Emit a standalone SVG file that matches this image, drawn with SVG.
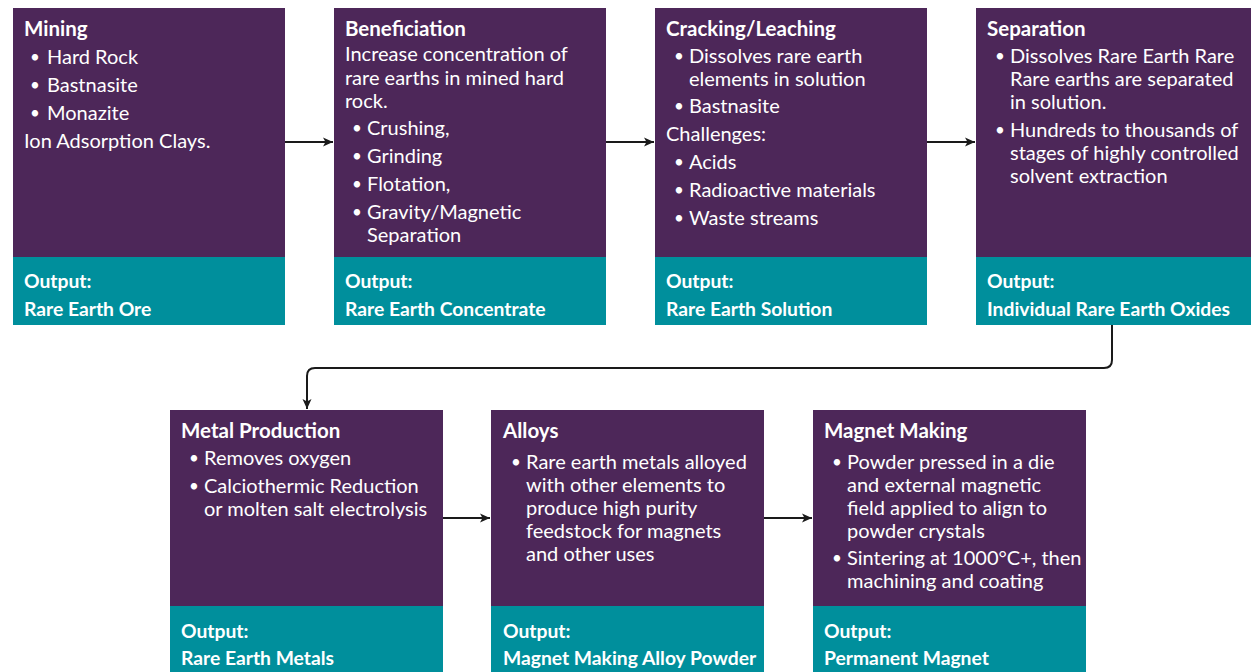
<svg xmlns="http://www.w3.org/2000/svg" width="1253" height="672" viewBox="0 0 1253 672">
<defs>
<style>
.top{fill:#4d2759}
.out{fill:#008f9c}
text{font-family:Lato,"Noto Sans",sans-serif;font-size:20px;fill:#ffffff}
.t{font-weight:bold;font-size:20.5px}
.o{font-weight:bold;font-size:19.3px}
.b{font-size:17px}
.c{fill:none;stroke:#1a1a1a;stroke-width:2}
</style>
<marker id="ah" viewBox="0 0 10 10" refX="10" refY="5" markerWidth="10" markerHeight="10" markerUnits="userSpaceOnUse" orient="auto">
<path d="M0,0.5 L10,5 L0,9.5 L2.5,5 Z" fill="#1a1a1a"/>
</marker>
</defs>
<rect width="1253" height="672" fill="#ffffff"/>

<g id="connectors">
<path class="c" d="M285,142 H333" marker-end="url(#ah)"/>
<path class="c" d="M606,142 H654" marker-end="url(#ah)"/>
<path class="c" d="M927,142 H975" marker-end="url(#ah)"/>
<path class="c" d="M1112,325 V360 Q1112,368 1104,368 H315 Q307,368 307,376 V409" marker-end="url(#ah)"/>
<path class="c" d="M443,518 H490" marker-end="url(#ah)"/>
<path class="c" d="M764,518 H812" marker-end="url(#ah)"/>
</g>

<g id="mining">
<rect class="top" x="13" y="8" width="272" height="249"/>
<rect class="out" x="13" y="257" width="272" height="68"/>
<text class="t" x="24" y="36">Mining</text>
<text class="b" x="30" y="63">•</text><text x="47" y="64">Hard Rock</text>
<text class="b" x="30" y="91">•</text><text x="47" y="92">Bastnasite</text>
<text class="b" x="30" y="119">•</text><text x="47" y="120">Monazite</text>
<text x="24" y="148">Ion Adsorption Clays.</text>
<text class="o" x="24" y="288">Output:</text>
<text class="o" x="24" y="316">Rare Earth Ore</text>
</g>

<g id="beneficiation">
<rect class="top" x="334" y="8" width="272" height="249"/>
<rect class="out" x="334" y="257" width="272" height="68"/>
<text class="t" x="345" y="36">Beneficiation</text>
<text x="345" y="61">Increase concentration of</text>
<text x="345" y="85">rare earths in mined hard</text>
<text x="345" y="108">rock.</text>
<text class="b" x="352" y="134">•</text><text x="367" y="135">Crushing,</text>
<text class="b" x="352" y="162">•</text><text x="367" y="163">Grinding</text>
<text class="b" x="352" y="190">•</text><text x="367" y="191">Flotation,</text>
<text class="b" x="352" y="218">•</text><text x="367" y="219">Gravity/Magnetic</text>
<text x="367" y="242">Separation</text>
<text class="o" x="345" y="288">Output:</text>
<text class="o" x="345" y="316">Rare Earth Concentrate</text>
</g>

<g id="cracking">
<rect class="top" x="655" y="8" width="272" height="249"/>
<rect class="out" x="655" y="257" width="272" height="68"/>
<text class="t" x="666" y="36">Cracking/Leaching</text>
<text class="b" x="674" y="62">•</text><text x="689" y="63">Dissolves rare earth</text>
<text x="689" y="86">elements in solution</text>
<text class="b" x="674" y="112">•</text><text x="689" y="113">Bastnasite</text>
<text x="666" y="141">Challenges:</text>
<text class="b" x="674" y="168">•</text><text x="689" y="169">Acids</text>
<text class="b" x="674" y="196">•</text><text x="689" y="197">Radioactive materials</text>
<text class="b" x="674" y="224">•</text><text x="689" y="225">Waste streams</text>
<text class="o" x="666" y="288">Output:</text>
<text class="o" x="666" y="316">Rare Earth Solution</text>
</g>

<g id="separation">
<rect class="top" x="976" y="8" width="275" height="249"/>
<rect class="out" x="976" y="257" width="275" height="68"/>
<text class="t" x="987" y="36">Separation</text>
<text class="b" x="995" y="62">•</text><text x="1010" y="63">Dissolves Rare Earth Rare</text>
<text x="1010" y="86">Rare earths are separated</text>
<text x="1010" y="109">in solution.</text>
<text class="b" x="995" y="136">•</text><text x="1010" y="137">Hundreds to thousands of</text>
<text x="1010" y="160">stages of highly controlled</text>
<text x="1010" y="183">solvent extraction</text>
<text class="o" x="987" y="288">Output:</text>
<text class="o" x="987" y="316">Individual Rare Earth Oxides</text>
</g>

<g id="metal-production">
<rect class="top" x="170" y="410" width="273" height="196"/>
<rect class="out" x="170" y="606" width="273" height="66"/>
<text class="t" x="181" y="438">Metal Production</text>
<text class="b" x="189" y="464">•</text><text x="204" y="465">Removes oxygen</text>
<text class="b" x="189" y="492">•</text><text x="204" y="493">Calciothermic Reduction</text>
<text x="204" y="516">or molten salt electrolysis</text>
<text class="o" x="181" y="638">Output:</text>
<text class="o" x="181" y="665">Rare Earth Metals</text>
</g>

<g id="alloys">
<rect class="top" x="491" y="410" width="273" height="196"/>
<rect class="out" x="491" y="606" width="273" height="66"/>
<text class="t" x="503" y="438">Alloys</text>
<text class="b" x="511" y="468">•</text><text x="526" y="469">Rare earth metals alloyed</text>
<text x="526" y="492">with other elements to</text>
<text x="526" y="515">produce high purity</text>
<text x="526" y="538">feedstock for magnets</text>
<text x="526" y="561">and other uses</text>
<text class="o" x="503" y="638">Output:</text>
<text class="o" x="503" y="665">Magnet Making Alloy Powder</text>
</g>

<g id="magnet-making">
<rect class="top" x="813" y="410" width="273" height="196"/>
<rect class="out" x="813" y="606" width="273" height="66"/>
<text class="t" x="824" y="438">Magnet Making</text>
<text class="b" x="832" y="468">•</text><text x="847" y="469">Powder pressed in a die</text>
<text x="847" y="492">and external magnetic</text>
<text x="847" y="515">field applied to align to</text>
<text x="847" y="538">powder crystals</text>
<text class="b" x="832" y="564">•</text><text x="847" y="565">Sintering at 1000°C+, then</text>
<text x="847" y="588">machining and coating</text>
<text class="o" x="824" y="638">Output:</text>
<text class="o" x="824" y="665">Permanent Magnet</text>
</g>
</svg>
